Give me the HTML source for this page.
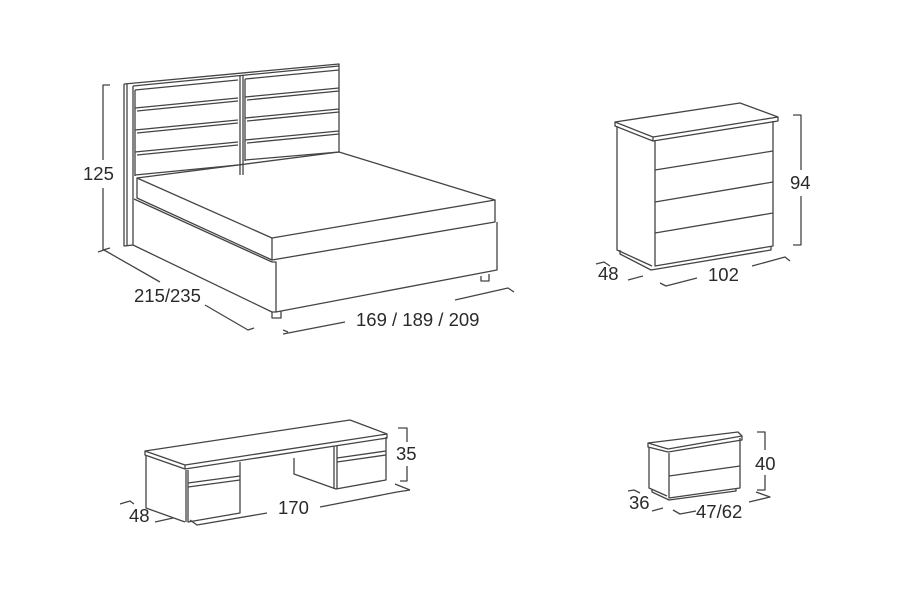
<!DOCTYPE html>
<html><head><meta charset="utf-8"><style>
html,body{margin:0;padding:0;background:#fff;width:900px;height:600px;overflow:hidden}
svg{display:block}
text{font-family:"Liberation Sans",Arial,sans-serif;font-size:18.5px;fill:#2a2a2a}
</style></head><body>
<svg width="900" height="600" viewBox="0 0 900 600" xmlns="http://www.w3.org/2000/svg">
<g fill="none" stroke="#444" stroke-width="1.3" stroke-linejoin="round">
<!-- BED -->
<path d="M124,84 L339,64 L339,152"/>
<path d="M124,84 L124,246 L133,245 L133,86"/>
<path d="M127,84 L127,246"/>
<path d="M133,86 L339,66"/>
<path d="M240,75 L240,175 M243,75 L243,175"/>
<path d="M135,90 L238,80 M135,108 L238,98 M137,111 L238,101 M135,130 L238,120 M137,133 L238,123 M135,152 L238,142 M137,155 L238,145 M135,175 L238,165"/>
<path d="M245,79 L339,70 M245,97 L339,88 M247,100 L339,91 M245,118 L339,109 M247,121 L339,112 M245,140 L339,131 M247,143 L339,134 M245,160 L339,152"/>
<path d="M135,90 L135,176 M245,79 L245,161"/>
<path d="M137,178 L339,152 L495,200 L272,238 Z"/>
<path d="M137,178 L137,198 L272,260 L272,238"/>
<path d="M272,260 L495,222 L495,200"/>
<path d="M134,199 L272,262"/>
<path d="M133,245 L272,312 L276,312 L276,262 L272,262"/>
<path d="M276,312 L497,270 L497,222"/>
<path d="M272,312 L272,318 L281,318 L281,311 M481,276 L481,281 L489,281 L489,274"/>
<path d="M110,85 L103,85 L103,160 M103,188 L103,250 L110,248"/>
<path d="M98,252 L104,250 L160,282"/>
<path d="M205,305 L248,330 L254,328"/>
<path d="M288,332 L283,330 M283,334 L345,322"/>
<path d="M455,300 L508,288 L514,292"/>
<!-- CHEST -->
<path d="M615,122 L740,103 L778,117 L778,121 L653,141 L615,126 Z"/>
<path d="M615,122 L653,137 L778,117 M653,137 L653,141"/>
<path d="M617,126 L617,250 L652,266"/>
<path d="M655,141 L655,266 L773,246 L773,121"/>
<path d="M655,170 L773,151 M655,202 L773,182 M655,233 L773,213"/>
<path d="M620,250 L620,254 L651,270 L771,250 L771,246"/>
<path d="M793,115 L801,115 L801,170 M801,196 L801,245 L793,245"/>
<path d="M596,264 L604,262 L610,266 M628,280 L643,276"/>
<path d="M660,283 L666,286 L697,278 M752,266 L785,257 L790,261"/>
<!-- DESK -->
<path d="M145,451 L350,420 L387,434 L387,438 L185,469 L145,455 Z"/>
<path d="M145,451 L185,465 L387,434 M185,465 L185,469"/>
<path d="M146,455 L146,508 L185,522"/>
<path d="M186,470 L186,522 M188,470 L188,522 L240,513 L240,462"/>
<path d="M188,483 L240,476 M188,487 L240,480"/>
<path d="M294,458 L294,474 L336,489 L386,480 L386,437"/>
<path d="M334,446 L334,489 M337,446 L337,489"/>
<path d="M337,458 L386,451 M337,462 L386,455"/>
<path d="M398,428 L407,428 L407,442 M407,466 L407,481 L400,481"/>
<path d="M120,504 L130,501 L134,504 M155,522 L173,518"/>
<path d="M190,520 L197,525 L267,513 M320,507 L397,492 L410,490"/>
<path d="M395,484 L410,490"/>
<!-- NIGHTSTAND -->
<path d="M648,443 L738,432 L742,436 L742,440 L668,452 L648,447 Z"/>
<path d="M648,443 L668,449 L742,436"/>
<path d="M649,447 L649,488 L667,496"/>
<path d="M669,453 L669,498 L740,488 L740,438"/>
<path d="M669,476 L740,466"/>
<path d="M652,489 L652,492 L669,500 L736,491 L736,488"/>
<path d="M757,432 L765,432 L765,450 M765,475 L765,490 L757,490"/>
<path d="M628,491 L634,490 L640,493 M652,511 L663,508"/>
<path d="M673,510 L680,514 L696,511 M749,502 L770,497 L756,492"/>
</g>
<text x="83" y="180">125</text>
<text x="134" y="302">215/235</text>
<text x="356" y="326">169 / 189 / 209</text>
<text x="790" y="189">94</text>
<text x="598" y="280">48</text>
<text x="708" y="281">102</text>
<text x="396" y="460">35</text>
<text x="129" y="522">48</text>
<text x="278" y="514">170</text>
<text x="755" y="470">40</text>
<text x="629" y="509">36</text>
<text x="696" y="518">47/62</text>
</svg>
</body></html>
